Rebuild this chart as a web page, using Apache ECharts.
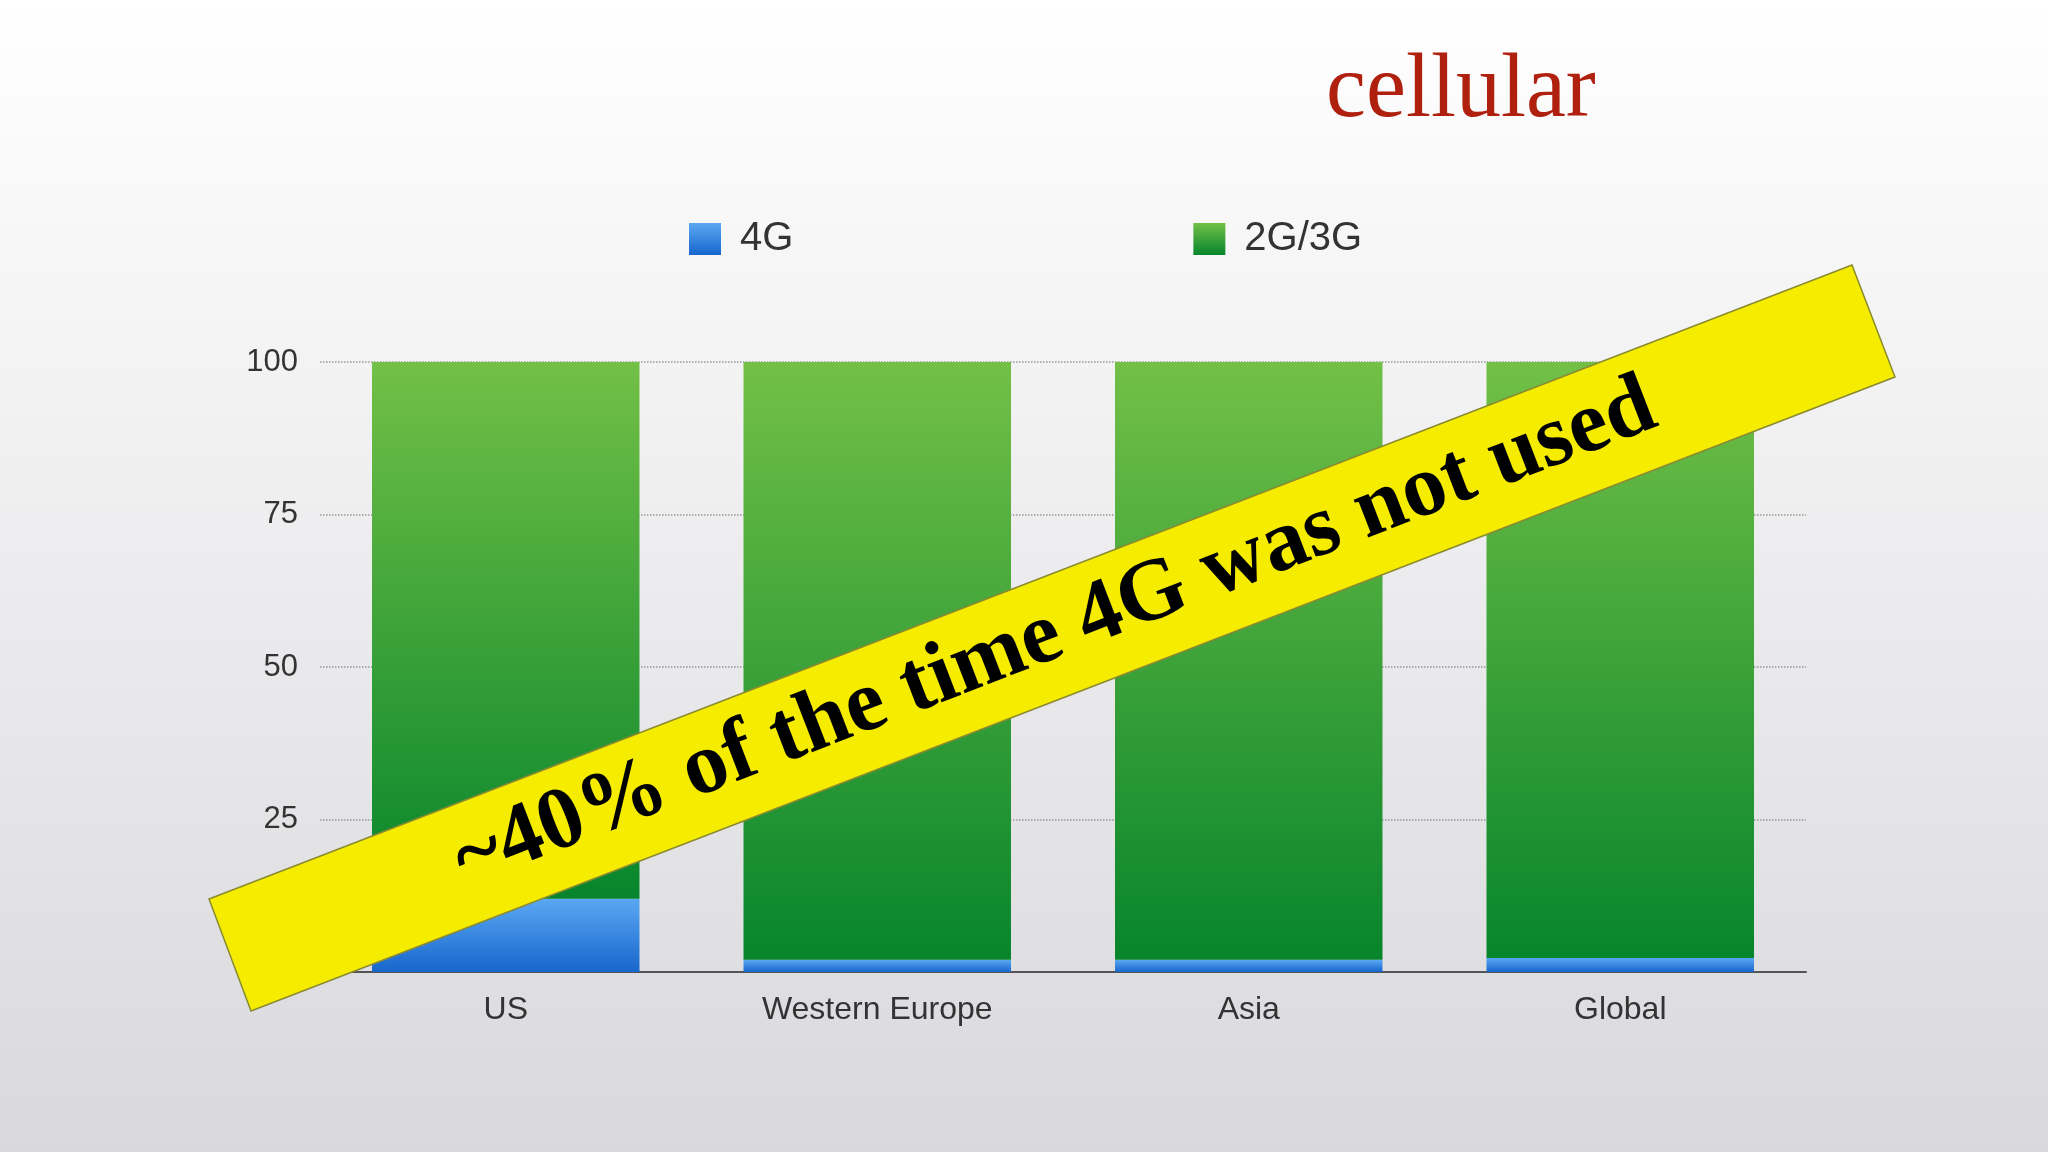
<!DOCTYPE html>
<html><head><meta charset="utf-8">
<script src="https://cdn.jsdelivr.net/npm/echarts@6/dist/echarts.min.js"></script>
<style>html,body{margin:0;padding:0}#c{width:2048px;height:1152px;background:linear-gradient(#ffffff,#d9d8dc)}</style>
</head><body><div id="c"></div>
<script>
const categories = ['US','Western Europe','Asia','Global'];
const g4 = [12, 2, 2, 2.3];
const g23 = [88, 98, 98, 97.7];
const yTicks = [0,25,50,75,100];
const chart = echarts.init(document.getElementById('c'));
const grad = (a,b)=>new echarts.graphic.LinearGradient(0,0,0,1,[{offset:0,color:a},{offset:1,color:b}]);
chart.setOption({
  title:{text:'cellular',left:1321,top:42,textStyle:{fontFamily:'Liberation Serif',fontWeight:'normal',fontSize:90,color:'#b0200f'}},
  legend:{top:214,left:684,itemGap:400,itemWidth:32,itemHeight:32,icon:'rect',textStyle:{fontSize:40,color:'#333',fontFamily:'Helvetica, Liberation Sans, sans-serif',padding:[0,0,0,14]},data:['4G','2G/3G']},
  grid:{left:320,right:242,top:362,bottom:180},
  xAxis:{type:'category',data:categories,axisTick:{show:false},axisLine:{lineStyle:{color:'#555',width:2}},axisLabel:{fontSize:32,color:'#333',margin:22}},
  yAxis:{type:'value',min:0,max:100,interval:25,axisLine:{show:false},axisTick:{show:false},
    axisLabel:{fontSize:31,color:'#333',margin:22,formatter:v=>v===0?'':v},
    splitLine:{lineStyle:{type:'dotted',color:'#999',width:1.5}}},
  series:[
    {name:'4G',type:'bar',stack:'a',data:g4,barCategoryGap:'28%',itemStyle:{color:grad('#5aa8f2','#1766cc')}},
    {name:'2G/3G',type:'bar',stack:'a',data:g23,itemStyle:{color:grad('#72c046','#07852c')}}
  ],
  graphic:[
    {type:'polygon',z:100,shape:{points:[[209,899],[1852,265],[1895,377],[251,1011]]},style:{fill:'#f5ec00',stroke:'#8a8a30',lineWidth:1.5}},
    {type:'text',z:101,x:1055,y:634,rotation:21.1*Math.PI/180,style:{text:'~40% of the time 4G was not used',fontFamily:'Liberation Serif',fontWeight:'bold',fontSize:88,fill:'#000',align:'center',verticalAlign:'middle'}}
  ]
});
</script></body></html>
